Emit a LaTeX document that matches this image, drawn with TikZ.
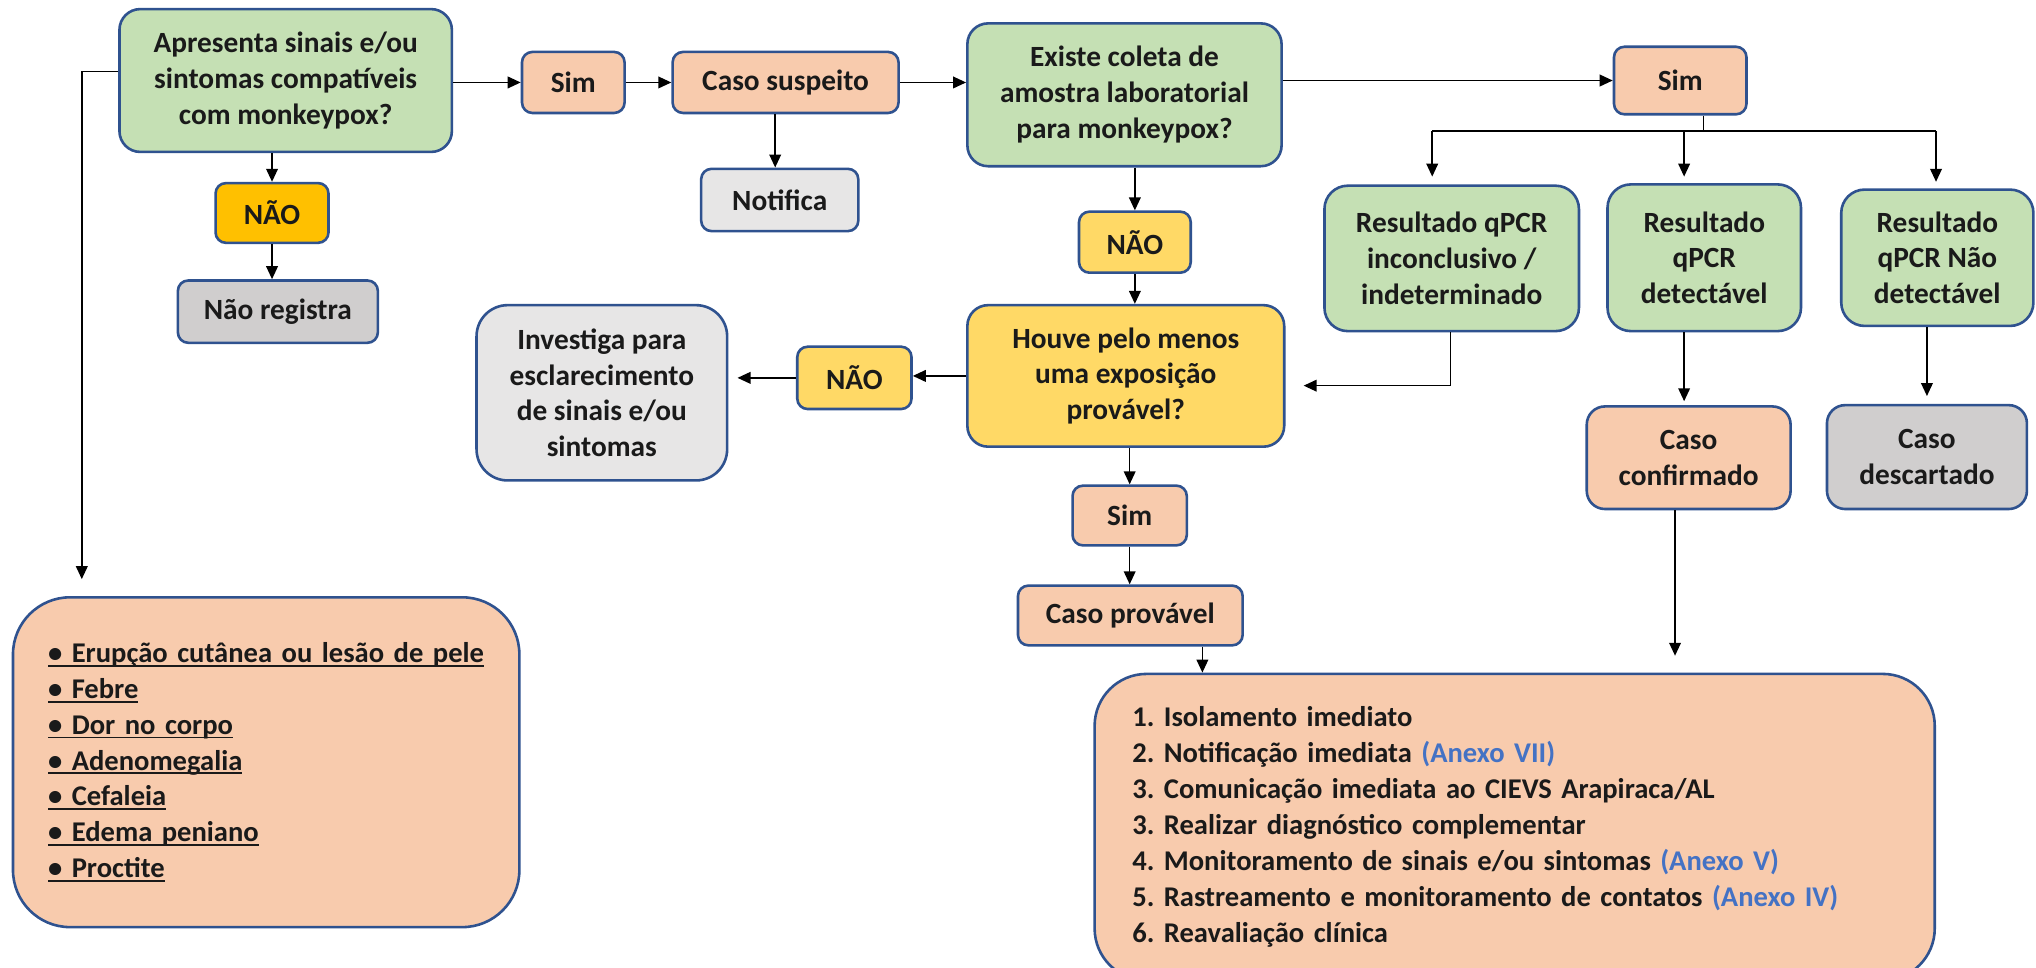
\documentclass[tikz,border=0pt]{standalone}
\usepackage{fontspec}
\setmainfont{Carlito}
\usetikzlibrary{arrows.meta,calc}
\definecolor{bord}{HTML}{2F528F}
\definecolor{grn}{HTML}{C5E0B4}
\definecolor{pch}{HTML}{F8CBAD}
\definecolor{lgr}{HTML}{E7E6E6}
\definecolor{dgr}{HTML}{D0CECE}
\definecolor{org}{HTML}{FFC000}
\definecolor{ylw}{HTML}{FFD966}
\definecolor{txt}{HTML}{1A1A1A}
\definecolor{lnk}{HTML}{4472C4}
\newcommand\ulx[1]{\leavevmode\setbox0\hbox{#1}\rlap{\rule[-1.7pt]{\wd0}{0.75pt}}\box0}
\frenchspacing
\begin{document}
\begin{tikzpicture}[x=0.5pt,y=-0.5pt,
 bx/.style={draw=bord,line width=1pt,rounded corners=#1,align=center,inner sep=0pt,text=txt,font=\fontsize{11.3}{13.8}\selectfont\bfseries},
 bx/.default=4pt,
 sz/.style 2 args={minimum width=#1,minimum height=#2},
 lst/.style={align=left,font=\fontsize{11}{13.85}\selectfont\bfseries},
 arr/.style={-{Triangle[length=5pt,width=4.5pt]},line width=0.6pt,black},
 ln/.style={line width=0.6pt,black}]
\useasboundingbox (0,0) rectangle (1568,745);
\fill[white] (0,0) rectangle (1568,745);

\node[bx=8pt,fill=grn,sz={128pt}{55pt}] (A) at (220,62) {Apresenta sinais e/ou\\sintomas compatíveis\\com monkeypox?};
\node[bx,fill=pch,sz={39.5pt}{23.5pt}] (S1) at (441.5,63.5) {Sim};
\node[bx,fill=pch,sz={87pt}{23.5pt}] (CS) at (605,63.5) {Caso suspeito};
\node[bx,fill=lgr,sz={60.5pt}{24pt}] (NT) at (600.5,154) {Notifica};
\node[bx=8pt,fill=grn,sz={121pt}{55pt}] (B) at (866,73) {Existe coleta de\\amostra laboratorial\\para monkeypox?};
\node[bx,fill=pch,sz={51pt}{26pt}] (S2) at (1294,62) {Sim};
\node[bx,fill=org,sz={43.5pt}{23pt}] (NA) at (209.5,164) {NÃO};
\node[bx,fill=dgr,sz={77pt}{24pt}] (NR) at (214,240) {Não registra};
\node[bx,fill=ylw,sz={43pt}{23.5pt}] (NB) at (874,186.5) {NÃO};
\node[bx=8pt,fill=ylw,sz={122pt}{54.5pt}] (C) at (867,289.5) {Houve pelo menos\\uma exposição\\provável?};
\node[bx,fill=ylw,sz={44pt}{24pt}] (NC) at (658,291) {NÃO};
\node[bx=12pt,fill=lgr,sz={96.5pt}{67.5pt}] (IV) at (463.5,302.5) {Investiga para\\esclarecimento\\de sinais e/ou\\sintomas};
\node[bx=9pt,fill=grn,sz={98pt}{56pt}] (R1) at (1118,199) {Resultado qPCR\\inconclusivo /\\indeterminado};
\node[bx=9pt,fill=grn,sz={74.5pt}{56.5pt}] (R2) at (1312.5,198.5) {Resultado\\qPCR\\detectável};
\node[bx=9pt,fill=grn,sz={74pt}{52.5pt}] (R3) at (1492,198.5) {Resultado\\qPCR Não\\detectável};
\node[bx=7pt,fill=pch,sz={78.5pt}{39.5pt}] (CC) at (1300.5,352.5) {Caso\\confirmado};
\node[bx=7pt,fill=dgr,sz={77pt}{40pt}] (CD) at (1484,352) {Caso\\descartado};
\node[bx,fill=pch,sz={44pt}{23pt}] (S3) at (870,397) {Sim};
\node[bx,fill=pch,sz={86.5pt}{23pt}] (CP) at (870.5,474) {Caso provável};

\node[bx=22pt,fill=pch,lst,minimum height=127pt,text width=168pt,inner xsep=13.5pt] (SY) at (205,587)
  {\ulx{• Erupção cutânea ou lesão de pele}\\
   \ulx{• Febre}\\
   \ulx{• Dor no corpo}\\
   \ulx{• Adenomegalia}\\
   \ulx{• Cefaleia}\\
   \ulx{• Edema peniano}\\
   \ulx{• Proctite}};

\node[bx=20pt,fill=pch,lst,minimum height=118pt,text width=294.5pt,inner xsep=14.5pt] (ACT) at (1166.5,637)
  {1. Isolamento imediato\\
   2. Notificação imediata {\color{lnk}(Anexo VII)}\\
   3. Comunicação imediata ao CIEVS Arapiraca/AL\\
   3. Realizar diagnóstico complementar\\
   4. Monitoramento de sinais e/ou sintomas {\color{lnk}(Anexo V)}\\
   5. Rastreamento e monitoramento de contatos {\color{lnk}(Anexo IV)}\\
   6. Reavaliação clínica};

% connectors
\draw[arr] (A.east |- S1.west) -- (S1.west);
\draw[arr] (S1.east) -- (CS.west);
\draw[arr] (CS.east) -- (CS.east -| B.west);
\draw[arr] ([xshift=-4pt]CS.south) -- ([xshift=-4pt]CS.south |- NT.north);
\draw[arr] (B.east |- S2.west) -- (S2.west);

\coordinate (bus) at (1312,101);
\coordinate (busL) at (1103,101);
\coordinate (busR) at (1491,101);
\coordinate (b2) at (1297,101);
\draw[ln] (bus |- S2.south) -- (bus);
\draw[ln] (busL) -- (busR);
\draw[arr] (busL) -- ($(busL |- R1.north)+(0,-6)$);
\draw[arr] (b2) -- ($(b2 |- R2.north)+(0,-5)$);
\draw[arr] (busR) -- ($(busR |- R3.north)+(0,-5)$);

\draw[arr] (A.south -| NA) -- (NA.north);
\draw[arr] (NA.south) -- (NA.south |- NR.north);
\coordinate (lt) at (63,55);
\coordinate (lb) at (63,446);
\draw[arr] (A.west |- lt) -- (lt) -- (lb);

\draw[arr] (B.south -| NB) -- (NB.north);
\draw[arr] (NB.south) -- (C.north -| NB);
\draw[arr] (C.west) -- (C.west -| NC.east);
\draw[arr,shorten >=3.5pt] (NC.west) -- (NC.west -| IV.east);

\coordinate (r1b) at (1117,297);
\coordinate (r1e) at (1004,297);
\draw[arr] (R1.south -| r1b) -- (r1b) -- (r1e);

\draw[arr] (C.south -| S3) -- (S3.north);
\draw[arr] (S3.south) -- (S3.south |- CP.north);
\coordinate (cpx) at (926,497);
\draw[arr] (CP.south -| cpx) -- (cpx |- ACT.north);

\coordinate (r2x) at (1297,0);
\draw[arr] (R2.south -| r2x) -- ($(CC.north -| r2x)+(0,-3)$);
\coordinate (r3x) at (1484,0);
\draw[arr] (R3.south -| r3x) -- ($(CD.north -| r3x)+(0,-6)$);
\coordinate (ccx) at (1290,505);
\draw[arr] (CC.south -| ccx) -- (ccx);
\end{tikzpicture}
\end{document}
